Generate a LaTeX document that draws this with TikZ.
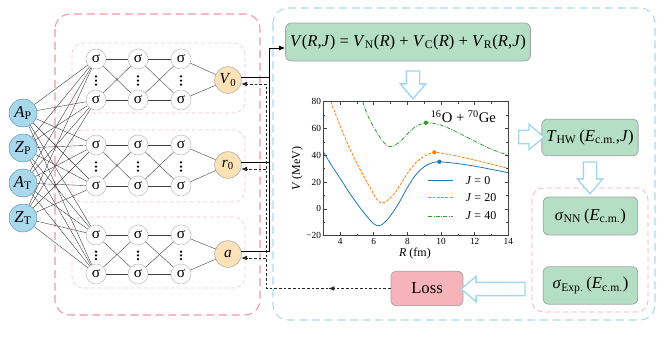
\documentclass[tikz,border=0pt]{standalone}
\usepackage{fontspec}
\setmainfont{Liberation Serif}
\usetikzlibrary{arrows.meta,positioning,shapes.arrows,calc}
\definecolor{inblue}{RGB}{168,216,236}
\definecolor{inedge}{RGB}{105,150,175}
\definecolor{outorange}{RGB}{252,226,182}
\definecolor{calcgreen}{RGB}{180,223,197}
\definecolor{lossred}{RGB}{244,180,186}
\definecolor{framepink}{RGB}{240,150,162}
\definecolor{grouppink}{RGB}{246,196,206}
\definecolor{frameblue}{RGB}{170,218,238}
\definecolor{flowblue}{RGB}{160,214,240}
\definecolor{curveblue}{RGB}{31,119,180}
\definecolor{curveorange}{RGB}{255,127,14}
\definecolor{curvegreen}{RGB}{44,160,44}
\tikzset{
    netbase/.style={
        circle,
        inner sep=0pt,
        font=\fontsize{11.5}{11.5}\selectfont
    },
    innode/.style={netbase, fill=inblue, draw=inedge, minimum size=21pt, font=\fontsize{12.5}{12.5}\selectfont},
    signode/.style={netbase, fill=white, draw=black!25, minimum size=15pt},
    outnode/.style={netbase, fill=outorange, draw=black!35, minimum size=20pt, font=\fontsize{11.5}{11.5}\selectfont},
    dotnode/.style={circle, fill=black, inner sep=0pt, minimum size=1.9pt},
    graphbase/.style={
        rectangle,
        rounded corners=1.5mm,
        draw=black!35,
        line width=0.6pt,
        align=center,
        font=\fontsize{12.5}{14}\selectfont
    },
    calcnode/.style={graphbase, fill=calcgreen},
    lossnode/.style={graphbase, fill=lossred},
    outerframe/.style={rounded corners=4mm, line width=0.8pt, dash pattern=on 6pt off 3.5pt},
    groupframe/.style={rounded corners=3mm, draw=grouppink, line width=0.5pt, dash pattern=on 3pt off 2pt},
    link/.style={draw=black!75, line width=0.3pt},
    line/.style={-{Latex[length=4.5pt,width=3.5pt]}, line width=0.6pt, draw=black},
    bus/.style={line width=0.6pt, draw=black},
    feedline/.style={line width=0.6pt, draw=black!85, dash pattern=on 2pt off 1.5pt},
    feedarrow/.style={feedline, -{Latex[length=4.5pt,width=3.5pt]}},
    flowarrow/.style={single arrow, draw=flowblue, line width=1pt, fill=white, inner sep=4.5pt,
        single arrow head extend=4.5pt, single arrow tip angle=80},
    axisframe/.style={draw=black!75, line width=0.4pt},
    ticklabel/.style={font=\fontsize{7}{7}\selectfont, inner sep=1.5pt},
    axislabel/.style={font=\fontsize{9}{9}\selectfont, inner sep=0pt},
    legendtext/.style={font=\fontsize{9}{9}\selectfont, inner sep=0pt, anchor=west},
    curvezero/.style={draw=curveblue, line width=0.6pt},
    curvetwenty/.style={draw=curveorange, line width=0.6pt, dash pattern=on 2.2pt off 1pt},
    curveforty/.style={draw=curvegreen, line width=0.6pt, dash pattern=on 3pt off 1pt on 0.6pt off 1pt},
}
\begin{document}
\begin{tikzpicture}[x=0.75pt, y=-0.75pt]
    \useasboundingbox (0,0) rectangle (664,336);

    \draw[outerframe, draw=framepink] (55,14) rectangle (260,315);
    \draw[outerframe, draw=frameblue] (273,8) rectangle (655,320);
    \draw[groupframe] (72,43) rectangle (245,113);
    \draw[groupframe] (72,130) rectangle (245,202);
    \draw[groupframe] (72,217) rectangle (245,288);
    \draw[groupframe, draw=framepink!80, dash pattern=on 4pt off 2.5pt] (532,188) rectangle (648,312);

    \node[innode] (aproj) at (23,113) {\textit{A}\textsubscript{P}};
    \node[innode] (zproj) at (23,148) {\textit{Z}\textsubscript{P}};
    \node[innode] (atarg) at (23,183) {\textit{A}\textsubscript{T}};
    \node[innode] (ztarg) at (23,218) {\textit{Z}\textsubscript{T}};

    \foreach \g/\yt/\yb in {1/59/100, 2/145/186, 3/235/274} {
        \foreach \col/\x in {1/96, 2/138, 3/181} {
            \node[signode] (s\g\col t) at (\x,\yt) {σ};
            \node[signode] (s\g\col b) at (\x,\yb) {σ};
            \path (s\g\col t) -- (s\g\col b)
                node[dotnode, pos=0.35] (d\g\col a) {}
                node[dotnode, pos=0.55] (d\g\col b) {}
                node[dotnode, pos=0.75] (d\g\col c) {};
        }
    }

    \node[outnode] (vzero) at (228,80) {\textit{V}\textsubscript{0}};
    \node[outnode] (rzero) at (228,165) {\textit{r}\textsubscript{0}};
    \node[outnode] (adiff) at (228,254) {\textit{a}};

    \foreach \i in {aproj,zproj,atarg,ztarg}
        \foreach \g in {1,2,3}
            \foreach \row in {t,b}
                \draw[link] (\i) -- (s\g1\row);
    \foreach \g in {1,2,3}
        \foreach \col/\nxt in {1/2,2/3}
            \foreach \row in {t,b}
                \foreach \nrow in {t,b}
                    \draw[link] (s\g\col\row) -- (s\g\nxt\nrow);
    \foreach \g/\o in {1/vzero,2/rzero,3/adiff}
        \foreach \row in {t,b}
            \draw[link] (s\g3\row) -- (\o);

    \node[calcnode, minimum width=178pt, minimum height=28.5pt] (veq) at (408,42)
        {\textit{V}(\textit{R},\textit{J}) = \textit{V}\textsubscript{N}(\textit{R}) + \textit{V}\textsubscript{C}(\textit{R}) + \textit{V}\textsubscript{R}(\textit{R},\textit{J})};
    \node[calcnode, minimum width=72pt, minimum height=27.5pt] (thw) at (590,137.5)
        {\textit{T}\textsubscript{HW}\,(\textit{E}\textsubscript{c.m.},\textit{J})};
    \node[calcnode, minimum width=71pt, minimum height=28.5pt] (signn) at (590.5,216)
        {\textit{σ}\textsubscript{NN}\,(\textit{E}\textsubscript{c.m.})};
    \node[calcnode, minimum width=71pt, minimum height=28pt] (sigexp) at (590.5,285.5)
        {\textit{σ}\textsubscript{Exp.}\,(\textit{E}\textsubscript{c.m.})};
    \node[lossnode, minimum width=54pt, minimum height=26pt] (loss) at (427,288.5) {Loss};

    \node[flowarrow, rotate=-90, minimum height=21pt] (flowa) at (413,81) {};
    \node[flowarrow, minimum height=19pt] (flowb) at (527.5,137) {};
    \node[flowarrow, rotate=-90, minimum height=24pt] (flowc) at (590,174) {};
    \node[flowarrow, rotate=180, minimum height=48pt] (flowd) at (497,289) {};

    \coordinate (busT) at (269,48);
    \draw[bus] (vzero.13) -- (vzero.13 -| busT);
    \draw[bus] (rzero.13) -- (rzero.13 -| busT);
    \draw[line] (adiff.13) -| (busT) -- (busT -| veq.west);

    \coordinate (fbB) at (266,288.5);
    \draw[feedarrow] (loss.west) -- ($(loss.west)!0.5!(fbB)$);
    \draw[feedarrow] ($(loss.west)!0.5!(fbB)$) -- (fbB) |- (vzero.343);
    \draw[feedarrow] (rzero.343 -| fbB) -- (rzero.343);
    \draw[feedarrow] (adiff.343 -| fbB) -- (adiff.343);

    \begin{scope}[shift={(272.84,208.9)}, x=12.615pt, y=1.005pt]
        \begin{scope}
            \clip (3,-20) rectangle (14,80);
            \draw[curvezero] plot[smooth] coordinates {(3,42.7) (3.5,32.3) (4,22.8) (4.5,13) (5,4) (5.5,-4.2) (5.8,-8.6) (6.05,-11.6) (6.25,-12.6) (6.45,-12) (6.7,-9.4) (7,-5) (7.5,4.5) (8,16) (8.5,25.5) (9,31.5) (9.5,34.5) (9.9,35.2) (10.5,34.5) (11,33.8) (12,31.9) (13,29.5) (14,27)};
            \draw[curvetwenty] plot[smooth] coordinates {(3.44,80) (4,62) (4.5,47) (5,34) (5.5,22) (5.8,15.5) (6.05,9.8) (6.25,6.2) (6.45,4.4) (6.65,4.9) (6.9,7.2) (7.2,11) (7.6,18.5) (8,26.5) (8.5,34.5) (9,39.3) (9.6,42.2) (10.2,41.2) (11,39.3) (12,36.5) (13,33.3) (14,30.3)};
            \draw[curveforty] plot[smooth] coordinates {(5.34,80) (5.6,71) (6,61) (6.5,51) (6.93,46.4) (7.5,49.5) (8,56) (8.5,61.5) (9.1,64.3) (10,62.5) (11,57) (12,50.5) (13,44.5) (14,40)};
        \end{scope}
        \draw[axisframe] (3,-20) rectangle (14,80);
        \foreach \t in {4,6,...,14} {
            \draw[axisframe] (\t,-20) -- ++(0pt,2.5pt);
            \draw[axisframe] (\t,80) -- ++(0pt,-2.5pt);
            \node[ticklabel, below] (xt\t) at (\t,-20) {\t};
        }
        \foreach \t in {3,5,...,13} {
            \draw[axisframe] (\t,-20) -- ++(0pt,1.4pt);
            \draw[axisframe] (\t,80) -- ++(0pt,-1.4pt);
        }
        \foreach \v/\lab [count=\k] in {-20/−20, 0/0, 20/20, 40/40, 60/60, 80/80} {
            \draw[axisframe] (3,\v) -- ++(2.5pt,0pt);
            \draw[axisframe] (14,\v) -- ++(-2.5pt,0pt);
            \node[ticklabel, left] (yt\k) at (3,\v) {\lab};
        }
        \foreach \v in {-10,10,30,50,70} {
            \draw[axisframe] (3,\v) -- ++(1.4pt,0pt);
            \draw[axisframe] (14,\v) -- ++(-1.4pt,0pt);
        }
        \fill[curveblue] (9.9,35.2) circle (1.6pt);
        \fill[curveorange] (9.6,42.2) circle (1.6pt);
        \fill[curvegreen] (9.1,64.3) circle (1.6pt);

        \draw[curvezero] (9.24,21.5) -- (10.73,21.5);
        \draw[curvetwenty] (9.24,8.4) -- (10.73,8.4);
        \draw[curveforty] (9.24,-5.3) -- (10.73,-5.3);
        \node[legendtext] (legzero) at (11.45,21.5) {\textit{J} = 0};
        \node[legendtext] (legtwenty) at (11.45,8.4) {\textit{J} = 20};
        \node[legendtext] (legforty) at (11.45,-5.3) {\textit{J} = 40};

        \node[font=\fontsize{11}{11}\selectfont, inner sep=0pt] (reac) at (11.33,68.8) {\textsuperscript{16}O + \textsuperscript{70}Ge};
        \node[axislabel, rotate=90] (vlabel) at (1.45,30) {\textit{V} (MeV)};
        \node[axislabel] (rlabel) at (8.45,-33) {\textit{R} (fm)};
    \end{scope}
\end{tikzpicture}
\end{document}
